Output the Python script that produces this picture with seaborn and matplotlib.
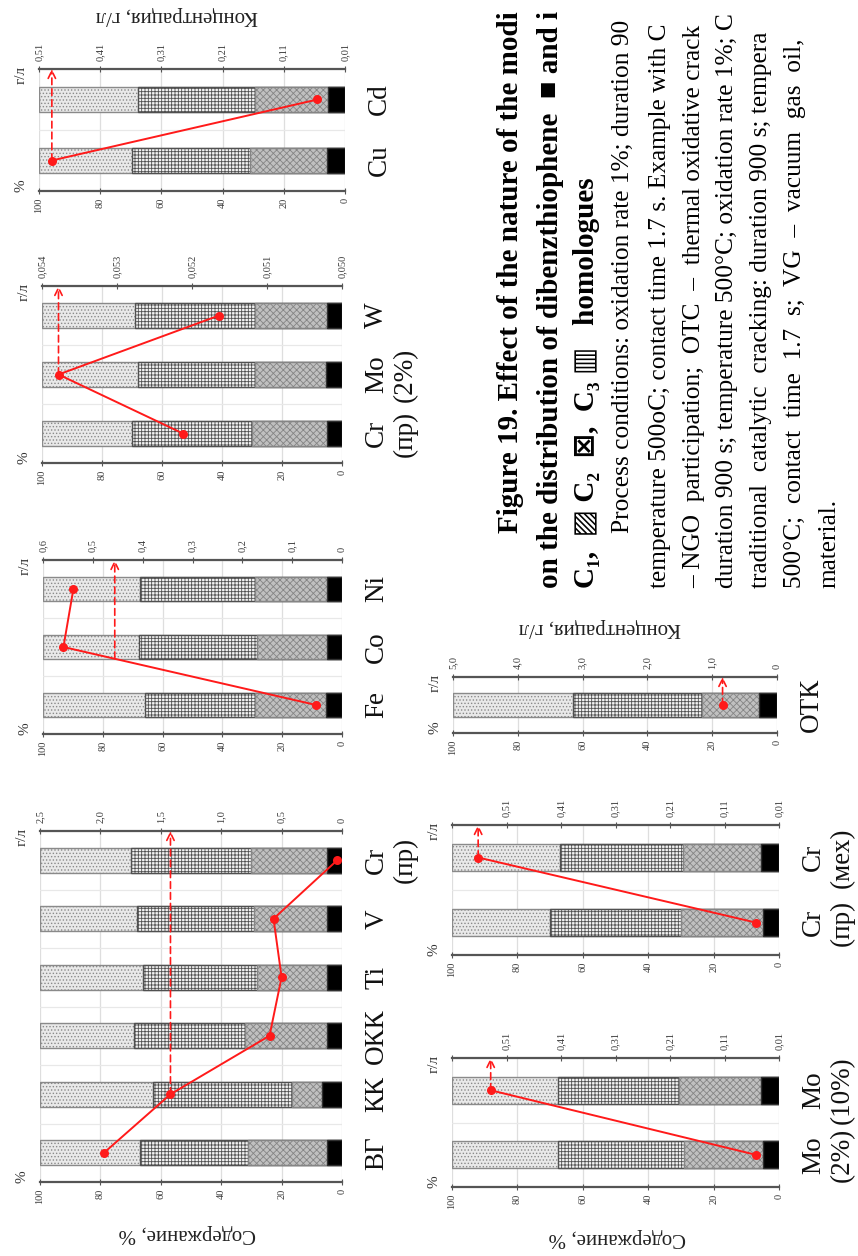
import numpy as np
import pandas as pd
import matplotlib
matplotlib.use("Agg")
import matplotlib.pyplot as plt
import seaborn as sns

# ---------------------------------------------------------------- data
# Stacked composition (%) of dibenzothiophene (DBT) and its C1/C2/C3 homologues,
# red line: total concentration, g/l (upper axis of every panel).
CATS_A = ["ВГ", "КК", "ОКК", "Ti", "V", "Cr\n(пр)"]
DBT_A = [5, 6.5, 5, 5, 5, 5]
C1_A = [26, 10, 27, 23, 24, 25]
C2_A = [36, 46, 37, 38, 39, 40]
C3_A = [33, 37.5, 31, 34, 32, 30]
CONC_A = [1.97, 1.42, 0.60, 0.50, 0.567, 0.04]
GL_TICKS_A = [0, 0.5, 1.0, 1.5, 2.0, 2.5]
GL_LABELS_A = ["0", "0,5", "1,0", "1,5", "2,0", "2,5"]

CATS_B = ["Fe", "Co", "Ni"]
DBT_B = [5.5, 5, 5]
C1_B = [23.5, 23.5, 24]
C2_B = [37, 39.5, 38.5]
C3_B = [34, 32, 32.5]
CONC_B = [0.052, 0.559, 0.539]
GL_TICKS_B = [0, 0.1, 0.2, 0.3, 0.4, 0.5, 0.6]
GL_LABELS_B = ["0", "0,1", "0,2", "0,3", "0,4", "0,5", "0,6"]

CATS_C = ["Cr\n(пр)", "Mo\n(2%)", "W"]
DBT_C = [5, 5.5, 5]
C1_C = [25, 23.5, 24]
C2_C = [40, 39, 40]
C3_C = [30, 32, 31]
CONC_C = [0.05212, 0.05378, 0.05164]
GL_TICKS_C = [0.050, 0.051, 0.052, 0.053, 0.054]
GL_LABELS_C = ["0,050", "0,051", "0,052", "0,053", "0,054"]

CATS_D = ["Cu", "Cd"]
DBT_D = [6, 5.5]
C1_D = [25, 24]
C2_D = [38.5, 38]
C3_D = [30.5, 32.5]
CONC_D = [0.489, 0.055]
GL_TICKS_D = [0.01, 0.11, 0.21, 0.31, 0.41, 0.51]
GL_LABELS_D = ["0,01", "0,11", "0,21", "0,31", "0,41", "0,51"]

CATS_E = ["ОТК"]
DBT_E = [5.5]
C1_E = [17.5]
C2_E = [40]
C3_E = [37]
CONC_E = [0.84]
GL_TICKS_E = [0, 1, 2, 3, 4, 5]
GL_LABELS_E = ["0", "1,0", "2,0", "3,0", "4,0", "5,0"]

CATS_F = ["Cr\n(пр)", "Cr\n(мех)"]
DBT_F = [5, 5.5]
C1_F = [25, 24]
C2_F = [40, 37.5]
C3_F = [30, 33]
CONC_F = [0.053, 0.562]
GL_TICKS_F = [0.01, 0.11, 0.21, 0.31, 0.41, 0.51, 0.61]
GL_LABELS_F = ["0,01", "0,11", "0,21", "0,31", "0,41", "0,51", ""]

CATS_G = ["Mo\n(2%)", "Mo\n(10%)"]
DBT_G = [5, 5.5]
C1_G = [24, 25]
C2_G = [38.5, 37]
C3_G = [32.5, 32.5]
CONC_G = [0.053, 0.539]
GL_TICKS_G = GL_TICKS_F
GL_LABELS_G = GL_LABELS_F

# dashed pointer to the g/l axis: (value, starting category position)
ARROW_A = (1.42, 1)
ARROW_B = (0.456, 0.8)
ARROW_C = (0.05378, 1)
ARROW_D = (0.489, 0)
ARROW_E = (0.84, 0)
ARROW_F = (0.562, 1)
ARROW_G = (0.539, 1)

PCT_TICKS = [0, 20, 40, 60, 80, 100]
PCT_LABELS = ["0", "20", "40", "60", "80", "100"]

CAPTION = [
    ("Figure 19. Effect of the nature of the modi", "bold", 21, 510, 533),
    ("on the distribution of dibenzthiophene  ■ and i", "bold", 21, 550, 588),
    ("C₁,  ▨ C₂  ⊠,  C₃ ▥   homologues", "bold", 21, 587, 588),
    ("Process conditions: oxidation rate 1%; duration 90", "normal", 18.3, 623, 533),
    ("temperature 500oC; contact time 1.7 s. Example with C", "normal", 18.3, 660, 588),
    ("– NGO  participation;  OTC  –  thermal oxidative crack", "normal", 18.3, 694, 588),
    ("duration 900 s; temperature 500°C; oxidation rate 1%; C", "normal", 18.3, 727, 588),
    ("traditional  catalytic  cracking: duration 900 s; tempera", "normal", 18.3, 761, 588),
    ("500°C;  contact  time  1.7  s;  VG  –  vacuum  gas  oil,", "normal", 18.3, 795, 588),
    ("material.", "normal", 18.3, 829, 588),
]

# ---------------------------------------------------------------- style
W, H = 858, 1256
sns.set_theme(style="white")
plt.rcParams["font.family"] = ["Liberation Serif", "DejaVu Sans"]
plt.rcParams["hatch.linewidth"] = 0.6

fig = plt.figure(figsize=(W / 100, H / 100), dpi=100, facecolor="white")


def box(x0, y0, x1, y1):
    return [x0 / W, 1 - y1 / H, (x1 - x0) / W, (y1 - y0) / H]


# drawn from the full stack down to the DBT segment
LAYERS = [
    ("s3", "#e9e9e9", "#8a8a8a", "....."),
    ("s2", "#f2f2f2", "#505050", "+++++"),
    ("s1", "#c0c0c0", "#858585", "xxxxx"),
    ("s0", "#000000", "#303030", None),
]


def panel(rect, cats, dbt, c1, c2, c3, conc, gl_ticks, gl_labels, arrow):
    ax = fig.add_axes(box(*rect))
    n = len(cats)
    df = pd.DataFrame({"cat": cats, "dbt": dbt, "c1": c1, "c2": c2, "c3": c3})
    df["s0"] = df["dbt"]
    df["s1"] = df["s0"] + df["c1"]
    df["s2"] = df["s1"] + df["c2"]
    df["s3"] = df["s2"] + df["c3"]
    for col, fc, ec, hatch in LAYERS:
        sns.barplot(data=df, x=col, y="cat", order=cats, orient="h", color=fc,
                    saturation=1, width=0.42, edgecolor=ec, linewidth=1.0,
                    hatch=hatch, errorbar=None, ax=ax)

    ax.set_xlim(100, 0)
    ax.set_xlabel("")
    ax.set_ylabel("")
    ax.set_xticks(PCT_TICKS)
    ax.set_xticklabels(PCT_LABELS, rotation=90, fontsize=7.5, color="#3a3a3a")
    ax.yaxis.tick_right()
    ax.set_yticks(range(n))
    ax.set_yticklabels(cats, rotation=90, fontsize=19.5, va="center",
                       ma="center", color="#111111")
    ax.set_yticks(np.arange(n + 1) - 0.5, minor=True)
    ax.tick_params(axis="y", which="both", length=0, pad=16)
    ax.tick_params(axis="x", direction="inout", length=4, width=0.8,
                   color="#555555", pad=3)
    ax.grid(axis="x", color="#dedede", lw=0.9)
    ax.grid(axis="y", which="minor", color="#e8e8e8", lw=0.9)
    ax.set_axisbelow(True)
    for side in ("left", "right", "top"):
        ax.spines[side].set_visible(False)
    ax.spines["bottom"].set_color("#555555")
    ax.spines["bottom"].set_linewidth(1.6)

    ax2 = ax.twiny()
    pos = np.arange(n)
    sns.lineplot(x=conc, y=pos, sort=False, estimator=None, color="#ff1a1a",
                 lw=1.4, marker="o", markersize=6.5, markeredgewidth=0, ax=ax2)
    ax2.set_xlim(max(gl_ticks), min(gl_ticks))
    ax2.set_xticks(gl_ticks)
    ax2.set_xticklabels(gl_labels, rotation=90, fontsize=7.5, color="#3a3a3a")
    ax2.set_xlabel("")
    ax2.tick_params(axis="x", direction="inout", length=4, width=0.8,
                    color="#555555", pad=4)
    for side in ("left", "right", "bottom"):
        ax2.spines[side].set_visible(False)
    ax2.spines["top"].set_color("#555555")
    ax2.spines["top"].set_linewidth(1.6)

    val, start = arrow
    ax2.annotate("", xy=(val, n - 0.5), xytext=(val, start),
                 arrowprops=dict(arrowstyle="->,head_length=0.45,head_width=0.22",
                                 color="#ff1a1a", lw=1.2, linestyle=(0, (4, 2.5)),
                                 shrinkA=0, shrinkB=0),
                 annotation_clip=False)
    ax.set_ylim(-0.5, n - 0.5)

    ax.annotate("%", xy=(0, 0), xycoords="axes fraction", xytext=(-13, 4),
                textcoords="offset points", rotation=90, ha="center",
                va="center", fontsize=11, color="#333333")
    ax.annotate("г/л", xy=(0, 1), xycoords="axes fraction", xytext=(-13, -4),
                textcoords="offset points", rotation=90, ha="center",
                va="center", fontsize=11, color="#333333")
    return ax


panel((40, 831, 342, 1182), CATS_A, DBT_A, C1_A, C2_A, C3_A, CONC_A,
      GL_TICKS_A, GL_LABELS_A, ARROW_A)
panel((43, 560, 342, 734), CATS_B, DBT_B, C1_B, C2_B, C3_B, CONC_B,
      GL_TICKS_B, GL_LABELS_B, ARROW_B)
panel((42, 286, 342, 463), CATS_C, DBT_C, C1_C, C2_C, C3_C, CONC_C,
      GL_TICKS_C, GL_LABELS_C, ARROW_C)
panel((39, 69, 345, 191), CATS_D, DBT_D, C1_D, C2_D, C3_D, CONC_D,
      GL_TICKS_D, GL_LABELS_D, ARROW_D)
panel((453, 677, 777, 733), CATS_E, DBT_E, C1_E, C2_E, C3_E, CONC_E,
      GL_TICKS_E, GL_LABELS_E, ARROW_E)
panel((452, 825, 779, 955), CATS_F, DBT_F, C1_F, C2_F, C3_F, CONC_F,
      GL_TICKS_F, GL_LABELS_F, ARROW_F)
panel((452, 1058, 779, 1187), CATS_G, DBT_G, C1_G, C2_G, C3_G, CONC_G,
      GL_TICKS_G, GL_LABELS_G, ARROW_G)

# axis titles (page is turned, so they read upside down)
for txt, x, y in [("Концентрация, г/л", 177, 15), ("Концентрация, г/л", 600, 627),
                  ("Содержание, %", 187, 1233), ("Содержание, %", 617, 1237)]:
    fig.text(x / W, 1 - y / H, txt, rotation=180, ha="center", va="center",
             fontsize=15, color="#222222")

# figure caption
for txt, weight, size, x, y in CAPTION:
    fig.text(x / W, 1 - y / H, txt, rotation=90, ha="center", va="bottom",
             fontsize=size, fontweight=weight, color="black",
             family=["Liberation Serif", "DejaVu Sans"])

fig.savefig("out.png", dpi=100, facecolor="white")
